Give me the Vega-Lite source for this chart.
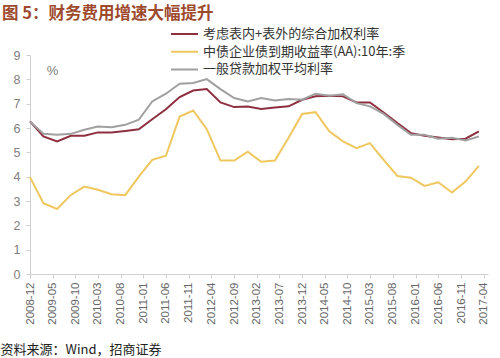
{
  "$schema": "https://vega.github.io/schema/vega-lite/v6.json",
  "autosize": {"type": "none"},
  "padding": {"left": 30, "top": 55, "right": 12, "bottom": 84},
  "width": 458,
  "height": 219,
  "background": "white",
  "title": {
    "text": "图 5：财务费用增速大幅提升",
    "anchor": "start",
    "frame": "group",
    "font": "Noto Sans CJK SC",
    "fontSize": 16.5,
    "fontWeight": "bold",
    "color": "#9E4A2E",
    "dx": -28,
    "offset": 5
  },
  "data": {
    "values": [
      {"d": "2008/12/01", "考虑表内+表外的综合加权利率": 6.27, "中债企业债到期收益率(AA):10年:季": 3.98, "一般贷款加权平均利率": 6.27},
      {"d": "2009/03/01", "考虑表内+表外的综合加权利率": 5.65, "中债企业债到期收益率(AA):10年:季": 2.91, "一般贷款加权平均利率": 5.76},
      {"d": "2009/06/01", "考虑表内+表外的综合加权利率": 5.45, "中债企业债到期收益率(AA):10年:季": 2.67, "一般贷款加权平均利率": 5.72},
      {"d": "2009/09/01", "考虑表内+表外的综合加权利率": 5.68, "中债企业债到期收益率(AA):10年:季": 3.25, "一般贷款加权平均利率": 5.76},
      {"d": "2009/12/01", "考虑表内+表外的综合加权利率": 5.68, "中债企业债到期收益率(AA):10年:季": 3.59, "一般贷款加权平均利率": 5.93},
      {"d": "2010/03/01", "考虑表内+表外的综合加权利率": 5.82, "中债企业债到期收益率(AA):10年:季": 3.46, "一般贷款加权平均利率": 6.06},
      {"d": "2010/06/01", "考虑表内+表外的综合加权利率": 5.82, "中债企业债到期收益率(AA):10年:季": 3.28, "一般贷款加权平均利率": 6.03},
      {"d": "2010/09/01", "考虑表内+表外的综合加权利率": 5.88, "中债企业债到期收益率(AA):10年:季": 3.24, "一般贷款加权平均利率": 6.13},
      {"d": "2010/12/01", "考虑表内+表外的综合加权利率": 5.95, "中债企业债到期收益率(AA):10年:季": 4.0, "一般贷款加权平均利率": 6.34},
      {"d": "2011/03/01", "考虑表内+表外的综合加权利率": 6.36, "中债企业债到期收益率(AA):10年:季": 4.69, "一般贷款加权平均利率": 7.09},
      {"d": "2011/06/01", "考虑表内+表外的综合加权利率": 6.77, "中债企业债到期收益率(AA):10年:季": 4.86, "一般贷款加权平均利率": 7.41},
      {"d": "2011/09/01", "考虑表内+表外的综合加权利率": 7.27, "中债企业债到期收益率(AA):10年:季": 6.47, "一般贷款加权平均利率": 7.82},
      {"d": "2011/12/01", "考虑表内+表外的综合加权利率": 7.54, "中债企业债到期收益率(AA):10年:季": 6.72, "一般贷款加权平均利率": 7.85},
      {"d": "2012/03/01", "考虑表内+表外的综合加权利率": 7.6, "中债企业债到期收益率(AA):10年:季": 5.95, "一般贷款加权平均利率": 8.01},
      {"d": "2012/06/01", "考虑表内+表外的综合加权利率": 7.05, "中债企业债到期收益率(AA):10年:季": 4.66, "一般贷款加权平均利率": 7.6},
      {"d": "2012/09/01", "考虑表内+表外的综合加权利率": 6.86, "中债企业债到期收益率(AA):10年:季": 4.66, "一般贷款加权平均利率": 7.23},
      {"d": "2012/12/01", "考虑表内+表外的综合加权利率": 6.88, "中债企业债到期收益率(AA):10年:季": 5.03, "一般贷款加权平均利率": 7.09},
      {"d": "2013/03/01", "考虑表内+表外的综合加权利率": 6.78, "中债企业债到期收益率(AA):10年:季": 4.61, "一般贷款加权平均利率": 7.23},
      {"d": "2013/06/01", "考虑表内+表外的综合加权利率": 6.84, "中债企业债到期收益率(AA):10年:季": 4.66, "一般贷款加权平均利率": 7.13},
      {"d": "2013/09/01", "考虑表内+表外的综合加权利率": 6.89, "中债企业债到期收益率(AA):10年:季": 5.6, "一般贷款加权平均利率": 7.19},
      {"d": "2013/12/01", "考虑表内+表外的综合加权利率": 7.16, "中债企业债到期收益率(AA):10年:季": 6.58, "一般贷款加权平均利率": 7.16},
      {"d": "2014/03/01", "考虑表内+表外的综合加权利率": 7.3, "中债企业债到期收益率(AA):10年:季": 6.65, "一般贷款加权平均利率": 7.41},
      {"d": "2014/06/01", "考虑表内+表外的综合加权利率": 7.33, "中债企业债到期收益率(AA):10年:季": 5.86, "一般贷款加权平均利率": 7.33},
      {"d": "2014/09/01", "考虑表内+表外的综合加权利率": 7.3, "中债企业债到期收益率(AA):10年:季": 5.45, "一般贷款加权平均利率": 7.39},
      {"d": "2014/12/01", "考虑表内+表外的综合加权利率": 7.05, "中债企业债到期收益率(AA):10年:季": 5.17, "一般贷款加权平均利率": 7.02},
      {"d": "2015/03/01", "考虑表内+表外的综合加权利率": 7.05, "中债企业债到期收益率(AA):10年:季": 5.38, "一般贷款加权平均利率": 6.89},
      {"d": "2015/06/01", "考虑表内+表外的综合加权利率": 6.64, "中债企业债到期收益率(AA):10年:季": 4.69, "一般贷款加权平均利率": 6.58},
      {"d": "2015/09/01", "考虑表内+表外的综合加权利率": 6.2, "中债企业债到期收益率(AA):10年:季": 4.03, "一般贷款加权平均利率": 6.13},
      {"d": "2015/12/01", "考虑表内+表外的综合加权利率": 5.79, "中债企业债到期收益率(AA):10年:季": 3.96, "一般贷款加权平均利率": 5.72},
      {"d": "2016/03/01", "考虑表内+表外的综合加权利率": 5.68, "中债企业债到期收益率(AA):10年:季": 3.62, "一般贷款加权平均利率": 5.72},
      {"d": "2016/06/01", "考虑表内+表外的综合加权利率": 5.61, "中债企业债到期收益率(AA):10年:季": 3.77, "一般贷款加权平均利率": 5.56},
      {"d": "2016/09/01", "考虑表内+表外的综合加权利率": 5.54, "中债企业债到期收益率(AA):10年:季": 3.35, "一般贷款加权平均利率": 5.6},
      {"d": "2016/12/01", "考虑表内+表外的综合加权利率": 5.56, "中债企业债到期收益率(AA):10年:季": 3.8, "一般贷款加权平均利率": 5.49},
      {"d": "2017/03/01", "考虑表内+表外的综合加权利率": 5.86, "中债企业债到期收益率(AA):10年:季": 4.44, "一般贷款加权平均利率": 5.65}
    ]
  },
  "transform": [
    {"fold": ["考虑表内+表外的综合加权利率", "中债企业债到期收益率(AA):10年:季", "一般贷款加权平均利率"], "as": ["series", "value"]}
  ],
  "mark": {"type": "line", "strokeWidth": 2},
  "encoding": {
    "x": {
      "field": "d",
      "type": "temporal",
      "scale": {"domain": [{"year": 2008, "month": 12, "date": 1}, {"year": 2017, "month": 5, "date": 1}]},
      "axis": {
        "values": [
          {"year": 2008, "month": 12, "date": 1}, {"year": 2009, "month": 5, "date": 1}, {"year": 2009, "month": 10, "date": 1},
          {"year": 2010, "month": 3, "date": 1}, {"year": 2010, "month": 8, "date": 1}, {"year": 2011, "month": 1, "date": 1},
          {"year": 2011, "month": 6, "date": 1}, {"year": 2011, "month": 11, "date": 1}, {"year": 2012, "month": 4, "date": 1},
          {"year": 2012, "month": 9, "date": 1}, {"year": 2013, "month": 2, "date": 1}, {"year": 2013, "month": 7, "date": 1},
          {"year": 2013, "month": 12, "date": 1}, {"year": 2014, "month": 5, "date": 1}, {"year": 2014, "month": 10, "date": 1},
          {"year": 2015, "month": 3, "date": 1}, {"year": 2015, "month": 8, "date": 1}, {"year": 2016, "month": 1, "date": 1},
          {"year": 2016, "month": 6, "date": 1}, {"year": 2016, "month": 11, "date": 1}, {"year": 2017, "month": 4, "date": 1}
        ],
        "format": "%Y-%m",
        "labelAngle": 270,
        "labelAlign": "right",
        "labelBaseline": "middle",
        "labelFont": "Liberation Sans",
        "labelFontSize": 11.5,
        "labelColor": "#666666",
        "labelPadding": 4,
        "labelOverlap": false,
        "labelFlush": false,
        "tickSize": 4,
        "tickColor": "#D0D0D0",
        "domainColor": "#D0D0D0",
        "grid": false,
        "title": "资料来源：Wind，招商证券",
        "titleFont": "Noto Sans CJK SC",
        "titleFontSize": 13,
        "titleFontWeight": "normal",
        "titleColor": "#222222",
        "titleAlign": "left",
        "titleBaseline": "middle",
        "titleAnchor": "start",
        "titleX": -30,
        "titleY": 75
      }
    },
    "y": {
      "field": "value",
      "type": "quantitative",
      "scale": {"domain": [0, 9], "nice": false},
      "axis": {
        "values": [0, 1, 2, 3, 4, 5, 6, 7, 8, 9],
        "labelFont": "Liberation Sans",
        "labelFontSize": 12.5,
        "labelColor": "#808080",
        "labelPadding": 6,
        "tickSize": 4,
        "tickColor": "#D0D0D0",
        "domainColor": "#D0D0D0",
        "grid": false,
        "title": "%",
        "titleAngle": 0,
        "titleFont": "Liberation Sans",
        "titleFontSize": 13,
        "titleFontWeight": "normal",
        "titleColor": "#808080",
        "titleAlign": "center",
        "titleBaseline": "middle",
        "titleX": 22,
        "titleY": 15
      }
    },
    "color": {
      "field": "series",
      "type": "nominal",
      "sort": null,
      "scale": {
        "domain": ["考虑表内+表外的综合加权利率", "中债企业债到期收益率(AA):10年:季", "一般贷款加权平均利率"],
        "range": ["#8E2F40", "#EEC75E", "#A0A0A0"]
      },
      "legend": {
        "title": null,
        "orient": "none",
        "legendX": 140,
        "legendY": -28,
        "direction": "vertical",
        "symbolType": "stroke",
        "symbolSize": 729,
        "symbolStrokeWidth": 2,
        "clipHeight": 14,
        "rowPadding": 3.7,
        "labelOffset": 4,
        "labelFont": "Noto Sans CJK SC",
        "labelFontSize": 13,
        "labelColor": "#333333",
        "labelLimit": 400,
        "padding": 0
      }
    }
  },
  "config": {
    "view": {"stroke": null}
  }
}
